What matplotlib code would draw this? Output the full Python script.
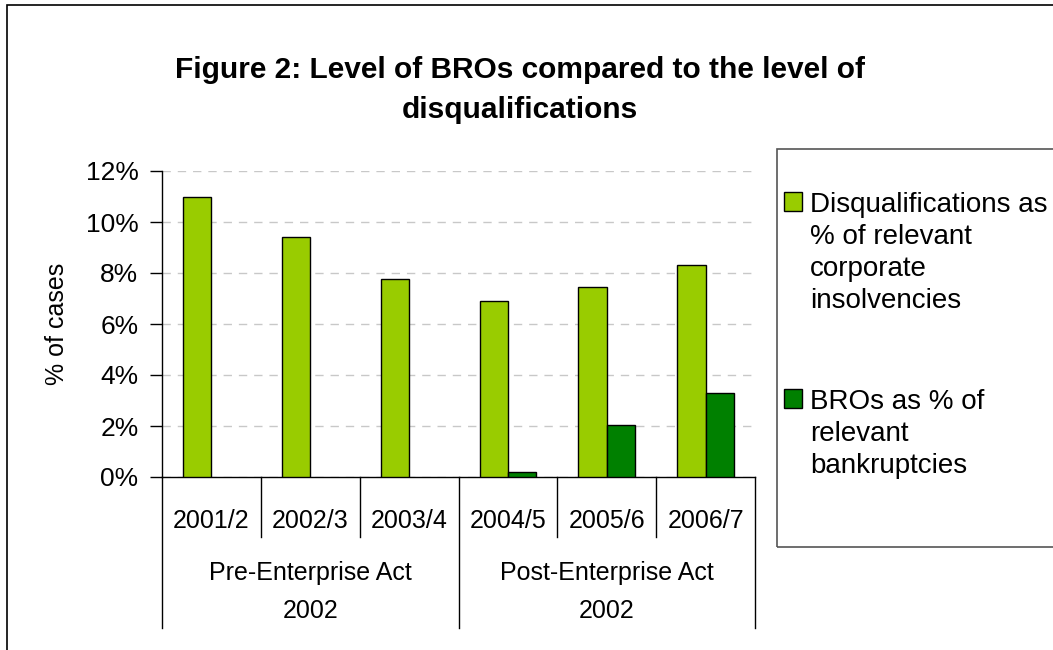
import matplotlib.pyplot as plt
import matplotlib.patches as mpatches
import numpy as np

plt.rcParams['font.family'] = ['Liberation Sans', 'DejaVu Sans']

# 数据
years = ['2001/2', '2002/3', '2003/4', '2004/5', '2005/6', '2006/7']
groups = ['Pre-Enterprise Act\n2002', 'Post-Enterprise Act\n2002']
group_sizes = [3, 3]
disqualifications = [11.0, 9.4, 7.75, 6.9, 7.45, 8.3]
bros = [0.0, 0.0, 0.0, 0.2, 2.05, 3.3]
series_names = ['Disqualifications as\n% of relevant\ncorporate\ninsolvencies',
                'BROs as % of\nrelevant\nbankruptcies']
colors = ['#99CC00', '#008000']

fig = plt.figure(figsize=(10.53, 6.5), dpi=100)
ax = fig.add_axes([162 / 1053, 1 - 477 / 650, (755 - 162) / 1053, 306 / 650])

x = np.arange(len(years))
w = 0.286
ax.bar(x - w / 2, disqualifications, w, color=colors[0], edgecolor='black', linewidth=1.0, zorder=3)
for xi, v in zip(x, bros):
    if v > 0:
        ax.bar(xi + w / 2, v, w, color=colors[1], edgecolor='black', linewidth=1.0, zorder=3)

ax.set_xlim(-0.5, len(years) - 0.5)
ax.set_ylim(0, 12)
ax.set_yticks(np.arange(0, 13, 2))
ax.set_yticklabels([f'{v}%' for v in range(0, 13, 2)], fontsize=19)
ax.tick_params(axis='y', direction='out', length=9, width=1, pad=8)
ax.set_xticks([])
ax.yaxis.grid(True, linestyle=(0, (6, 5)), color='#c8c8c8', linewidth=1.0, zorder=0)
for s in ['top', 'right']:
    ax.spines[s].set_visible(False)
ax.spines['left'].set_linewidth(1.0)
ax.spines['bottom'].set_linewidth(1.0)
ax.set_ylabel('% of cases', fontsize=18, labelpad=12)

# 分类轴: 年份 + 分组
tr = ax.get_xaxis_transform()
bounds = np.arange(len(years) + 1) - 0.5
group_edges = np.concatenate([[0], np.cumsum(group_sizes)]) - 0.5
for b in bounds:
    depth = -0.493 if b in group_edges else -0.196
    ax.plot([b, b], [0, depth], transform=tr, color='black', linewidth=1.0, clip_on=False)
for xi, label in zip(x, years):
    ax.text(xi, -0.144, label, transform=tr, ha='center', va='center', fontsize=18)
for i, label in enumerate(groups):
    center = (group_edges[i] + group_edges[i + 1]) / 2
    ax.text(center, -0.376, label, transform=tr, ha='center', va='center', fontsize=18,
            linespacing=1.7)

# 标题
fig.text(520 / 1053, 1 - 90 / 650, 'Figure 2: Level of BROs compared to the level of\ndisqualifications',
         ha='center', va='center', fontsize=21.5, fontweight='bold', linespacing=1.55)

# 图例
fig.add_artist(mpatches.Rectangle((777 / 1053, 1 - 547 / 650), 0.4, (547 - 149) / 650,
                                  transform=fig.transFigure, facecolor='none',
                                  edgecolor='#555555', linewidth=1.2))
entry_tops = [192, 389]
for top, name, c in zip(entry_tops, series_names, colors):
    fig.add_artist(mpatches.Rectangle((784 / 1053, 1 - (top + 19) / 650), 18 / 1053, 19 / 650,
                                      transform=fig.transFigure, facecolor=c,
                                      edgecolor='black', linewidth=1.0))
    fig.text(810 / 1053, 1 - top / 650, name, ha='left', va='top', fontsize=20,
             linespacing=1.3)

# 外框
fig.add_artist(mpatches.Rectangle((7 / 1053, -0.1), 1.2, 1 - 5 / 650 + 0.1,
                                  transform=fig.transFigure, facecolor='none',
                                  edgecolor='black', linewidth=1.2))

fig.savefig('out.png', dpi=100)
